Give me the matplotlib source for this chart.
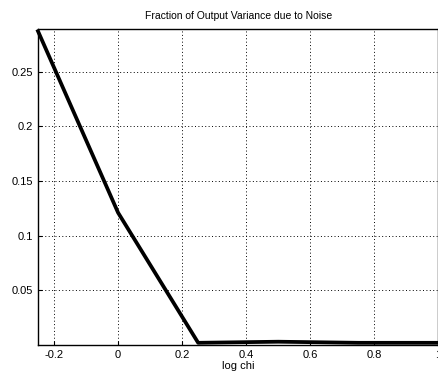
import matplotlib.pyplot as plt
import numpy as np

# fraction of output variance due to noise vs log chi
log_chi = [-0.25, 0.0, 0.25, 0.5, 0.75, 1.0]
noise_frac = [0.287, 0.121, 0.002, 0.003, 0.002, 0.002]

xticks = [-0.2, 0, 0.2, 0.4, 0.6, 0.8, 1.0]
xticklabels = ['-0.2', '0', '0.2', '0.4', '0.6', '0.8', '1']
yticks = [0.05, 0.1, 0.15, 0.2, 0.25]
yticklabels = ['0.05', '0.1', '0.15', '0.2', '0.25']

plt.rcParams['font.family'] = ['Liberation Sans', 'DejaVu Sans']

fig = plt.figure(figsize=(4.38, 3.79), dpi=100)
ax = fig.add_axes([38/438, 34/379, 1 - 38/438 + 0.001, 316/379])

ax.plot(log_chi, noise_frac, color='black', linewidth=2.7, clip_on=False)

ax.set_xlim(-0.25, 1.0)
ax.set_ylim(0, 0.289)
ax.set_xticks(xticks)
ax.set_xticklabels(xticklabels)
ax.set_yticks(yticks)
ax.set_yticklabels(yticklabels)
ax.grid(True, linestyle=(0, (1, 2.5)), color='black', linewidth=0.7)
ax.tick_params(direction='in', length=3, labelsize=8, width=0.8)
for s in ax.spines.values():
    s.set_linewidth(1.0)

ax.set_xlabel('log chi', fontsize=8, labelpad=1)
ax.set_title('Fraction of Output Variance due to Noise', fontsize=7.5, pad=7)

fig.savefig('out.png', dpi=100)
